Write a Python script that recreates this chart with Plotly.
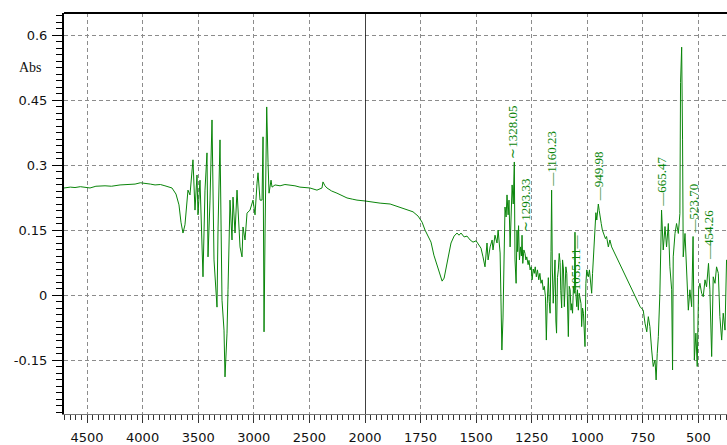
import plotly.graph_objects as go

# FT-IR absorbance spectrum, high-wavenumber part (compressed scale)
wn_high = [4707, 4650, 4608, 4560, 4473, 4420, 4338, 4280, 4203, 4140, 4068, 4020,
           3978, 3930, 3888, 3840, 3799, 3760, 3736, 3700, 3673, 3655, 3637, 3619,
           3610, 3592, 3574, 3547, 3529, 3511, 3502, 3484, 3457, 3439, 3421, 3412,
           3394, 3376, 3358, 3331, 3322, 3304, 3286, 3268, 3259, 3241, 3232, 3214,
           3196, 3187, 3169, 3151, 3124, 3106, 3097, 3079, 3061, 3034, 3007, 2989,
           2971, 2962, 2944, 2926, 2917, 2908, 2899, 2884, 2872, 2863, 2845, 2836,
           2809, 2764, 2720, 2674, 2630, 2585, 2540, 2495, 2432, 2387, 2378, 2360,
           2342, 2300, 2252, 2200, 2162, 2110, 2072, 2000]
abs_high = [0.247, 0.249, 0.248, 0.250, 0.247, 0.251, 0.252, 0.251, 0.254, 0.255, 0.256, 0.259,
            0.258, 0.256, 0.254, 0.255, 0.252, 0.250, 0.247, 0.233, 0.208, 0.168, 0.143, 0.162,
            0.187, 0.242, 0.231, 0.312, 0.196, 0.277, 0.185, 0.265, 0.042, 0.242, 0.328, 0.088,
            0.219, 0.404, 0.081, -0.028, 0.150, 0.358, -0.012, -0.081, -0.189, -0.088, 0.012, 0.219,
            0.127, 0.226, 0.143, 0.242, 0.111, 0.088, 0.157, 0.127, 0.189, 0.196, 0.219, 0.185,
            0.258, 0.282, 0.219, 0.219, 0.365, -0.085, 0.143, 0.434, 0.305, 0.235, 0.265, 0.249,
            0.254, 0.252, 0.255, 0.254, 0.252, 0.249, 0.248, 0.247, 0.242, 0.247, 0.261, 0.252,
            0.247, 0.240, 0.235, 0.229, 0.224, 0.221, 0.219, 0.217]

# Fingerprint part (expanded scale)
wn_low = [2000, 1978, 1932, 1887, 1856, 1829, 1806, 1784, 1761, 1743, 1730, 1716,
          1703, 1690, 1676, 1662, 1653, 1644, 1635, 1626, 1613, 1599, 1586, 1577,
          1568, 1554, 1541, 1527, 1514, 1500, 1491, 1478, 1469, 1460, 1451, 1446,
          1437, 1428, 1424, 1415, 1406, 1401, 1392, 1388, 1384, 1379, 1374, 1370,
          1365, 1361, 1356, 1352, 1347, 1343, 1338, 1333, 1328.05, 1325, 1320, 1316,
          1313, 1309, 1305, 1300, 1296, 1293.33, 1290, 1285, 1280, 1276, 1272, 1266,
          1262, 1257, 1252, 1248, 1243, 1238, 1234, 1229, 1224, 1218, 1213, 1208,
          1203, 1198, 1193, 1188, 1184, 1180, 1175, 1171, 1167, 1163, 1160.23, 1157,
          1153, 1149, 1145, 1141, 1138, 1134, 1130, 1126, 1122, 1119, 1115, 1111,
          1107, 1103, 1100, 1096, 1092, 1088, 1085, 1081, 1077, 1073, 1070, 1066,
          1062, 1058, 1055.11, 1052, 1047, 1044, 1040, 1036, 1032, 1028, 1025, 1021,
          1017, 1013, 1010, 1006, 1002, 999, 995, 990, 985, 980, 976, 972,
          968, 965, 961, 957, 953, 949.98, 946, 942, 937, 932, 928, 923,
          918, 913, 905, 898, 890, 762, 748, 740, 732, 725, 718, 710,
          703, 695, 690, 685, 680, 673, 668, 665.47, 658, 650, 643, 635,
          628, 620, 616, 613, 605, 598, 590, 583, 580, 575, 571, 568,
          560, 553, 545, 538, 530, 523.70, 518, 511, 505, 499, 493, 485,
          478, 470, 463, 454.26, 448, 440, 433, 425, 418, 410, 403, 395,
          388, 380, 373, 365]
abs_low = [0.217, 0.215, 0.212, 0.210, 0.205, 0.201, 0.196, 0.192, 0.182, 0.168, 0.150, 0.136,
           0.122, 0.092, 0.069, 0.046, 0.032, 0.039, 0.062, 0.088, 0.120, 0.136, 0.143, 0.138,
           0.143, 0.134, 0.136, 0.127, 0.122, 0.125, 0.118, 0.108, 0.088, 0.065, 0.120, 0.081,
           0.111, 0.127, 0.104, 0.138, 0.120, 0.150, 0.097, 0.012, -0.127, -0.053, 0.104, 0.203,
           0.180, 0.231, 0.185, 0.219, 0.111, 0.208, 0.254, 0.210, 0.307, 0.081, 0.027, 0.150,
           0.100, 0.160, 0.081, 0.111, 0.090, 0.138, 0.073, 0.104, 0.096, 0.081, 0.088, 0.070,
           0.080, 0.058, 0.065, 0.035, 0.060, 0.050, 0.065, 0.042, 0.058, 0.035, 0.050, 0.027,
           0.035, 0.012, 0.020, -0.004, -0.104, -0.020, 0.040, -0.015, -0.042, 0.100, 0.242, 0.060,
           -0.019, 0.030, 0.081, -0.060, -0.088, 0.040, 0.058, 0.096, 0.075, 0.010, -0.030, 0.081,
           0.060, -0.027, 0.010, 0.065, 0.050, -0.073, -0.096, 0.020, 0.012, -0.035, -0.020, -0.042,
           0.020, 0.004, 0.145, 0.010, -0.027, 0.012, -0.035, 0.004, -0.012, -0.020, -0.073, -0.030,
           -0.042, -0.100, -0.119, 0.027, 0.058, 0.050, 0.042, 0.058, 0.035, 0.004, 0.050, 0.081,
           0.120, 0.142, 0.190, 0.173, 0.200, 0.210, 0.195, 0.175, 0.165, 0.150, 0.145, 0.140,
           0.130, 0.135, 0.111, 0.127, 0.111, -0.027, -0.035, -0.065, -0.085, -0.050, -0.073, -0.127,
           -0.165, -0.150, -0.196, -0.135, -0.096, 0.004, 0.135, 0.196, 0.104, 0.158, 0.111, 0.165,
           0.065, 0.012, -0.173, 0.088, 0.142, 0.165, 0.142, 0.188, 0.490, 0.572, 0.358, 0.088,
           0.142, 0.042, -0.035, 0.012, -0.027, 0.135, -0.150, -0.088, -0.165, 0.012, 0.027, 0.004,
           -0.004, 0.035, 0.019, 0.073, 0.012, -0.142, 0.042, 0.027, 0.065, 0.050, -0.050, -0.104,
           -0.042, -0.081, 0.081, 0.060]

# Labelled peak positions (cm-1)
peak_wn = [1328.05, 1293.33, 1160.23, 1055.11, 949.98, 665.47, 523.70, 454.26]
peak_text = ["1328.05", "1293.33", "1160.23", "1055.11", "949.98", "665.47", "523.70", "454.26"]

x_left_ticks = [4500, 4000, 3500, 3000, 2500, 2000]
x_right_ticks = [1750, 1500, 1250, 1000, 750, 500]
y_ticks = [-0.15, 0, 0.15, 0.3, 0.45, 0.6]
y_tick_text = ["-0.15", "0", "0.15", "0.3", "0.45", "0.6"]

GREEN = "#0a850a"
GRID = "#8c8c8c"
TICK_FONT = dict(family="DejaVu Sans", size=13, color="#111")
LABEL_FONT = dict(family="Liberation Serif", size=13, color=GREEN)

W, H = 727, 445
M_L, M_T, M_B, M_R = 64, 13, 31, 0
split = 301 / (W - M_L - M_R)

fig = go.Figure()
fig.add_trace(go.Scatter(x=wn_high, y=abs_high, mode="lines", xaxis="x", yaxis="y",
                         line=dict(color=GREEN, width=1), hoverinfo="skip"))
fig.add_trace(go.Scatter(x=wn_low, y=abs_low, mode="lines", xaxis="x2", yaxis="y",
                         line=dict(color=GREEN, width=1), hoverinfo="skip"))

common_x = dict(
    showline=True, linecolor="#777", linewidth=1,
    ticks="outside", ticklen=8, tickcolor="#333", tickwidth=1,
    showgrid=True, gridcolor=GRID, gridwidth=1, griddash="4px,3px",
    zeroline=False, tickfont=TICK_FONT, ticklabelstandoff=3, automargin=False,
)

fig.update_layout(
    width=W, height=H, autosize=False,
    margin=dict(l=M_L, r=M_R, t=M_T, b=M_B, pad=0, autoexpand=False),
    paper_bgcolor="white", plot_bgcolor="white",
    showlegend=False,
    xaxis=dict(domain=[0, split], range=[4707, 2000], anchor="y",
               tickmode="array", tickvals=x_left_ticks,
               minor=dict(dtick=50, tick0=0, ticks="outside", ticklen=5,
                          tickcolor="#333", showgrid=False),
               **common_x),
    xaxis2=dict(domain=[split, 1], range=[2000, 371], anchor="y",
                tickmode="array", tickvals=x_right_ticks,
                minor=dict(dtick=25, tick0=0, ticks="outside", ticklen=5,
                           tickcolor="#333", showgrid=False),
                **common_x),
    yaxis=dict(range=[-0.2746, 0.6508], anchor="x",
               tickmode="array", tickvals=y_ticks, ticktext=y_tick_text,
               showline=True, linecolor="black", linewidth=2,
               ticks="outside", ticklen=10, tickcolor="black", tickwidth=1,
               minor=dict(dtick=0.015, tick0=0, ticks="outside", ticklen=6,
                          tickcolor="black", showgrid=False),
               showgrid=True, gridcolor=GRID, gridwidth=1, griddash="4px,3px",
               zeroline=False, tickfont=TICK_FONT, ticklabelstandoff=2, automargin=False),
)

# frame: top border and the scale break at 2000 cm-1
fig.add_shape(type="line", xref="paper", yref="paper", x0=0, x1=1, y0=1, y1=1,
              line=dict(color="black", width=2))
fig.add_shape(type="line", xref="x2", yref="paper", x0=2000, x1=2000, y0=0, y1=1,
              line=dict(color="black", width=1.5))

# y-axis title
fig.add_annotation(text="Abs", xref="paper", yref="paper", x=-0.05, y=0.863,
                   showarrow=False, xanchor="center", yanchor="middle",
                   font=dict(family="Liberation Serif", size=14, color="#111"))

# peak labels
label_style = {"1328.05": "curl", "1293.33": "curl", "1055.11": "below"}
label_shift = {"1293.33": 4, "1328.05": -2}
for wn, txt in zip(peak_wn, peak_text):
    y = abs_low[wn_low.index(wn)]
    style = label_style.get(txt, "above")
    if style == "below":
        fig.add_annotation(x=wn, y=y, xref="x2", yref="y", text=txt + "—",
                           textangle=-90, showarrow=False, xanchor="center",
                           yanchor="top", font=LABEL_FONT, yshift=0)
    else:
        lead = "∼" if style == "curl" else "—"
        fig.add_annotation(x=wn, y=y, xref="x2", yref="y", text=lead + txt,
                           textangle=-90, showarrow=False, xanchor="center",
                           yanchor="bottom", font=LABEL_FONT, yshift=1,
                           xshift=label_shift.get(txt, 0))

fig.write_html("out.html", config={"responsive": False})
